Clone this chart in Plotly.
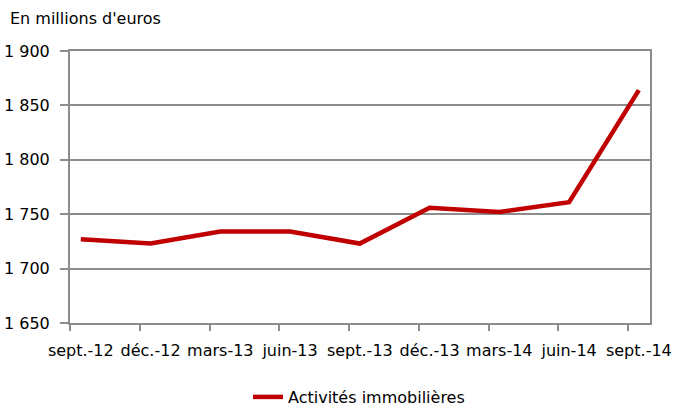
import plotly.graph_objects as go

categories = ["sept.-12", "déc.-12", "mars-13", "juin-13", "sept.-13",
              "déc.-13", "mars-14", "juin-14", "sept.-14"]
values = [1727, 1723, 1734, 1734, 1723, 1756, 1752, 1761, 1864]
y_ticks = [1650, 1700, 1750, 1800, 1850, 1900]
y_tick_labels = ["1 650", "1 700", "1 750", "1 800", "1 850", "1 900"]
series_name = "Activités immobilières"

offset = 0.155
xpos = [i + offset for i in range(len(categories))]

FONT = "DejaVu Sans"
FS = 16
GRID = "#8c8c8c"

fig = go.Figure()
fig.add_trace(go.Scatter(
    x=xpos, y=values, mode="lines", name=series_name,
    line=dict(color="#C00000", width=4.5),
))

fig.update_layout(
    width=675, height=406,
    margin=dict(l=70, r=25, t=51, b=83, autoexpand=False),
    paper_bgcolor="white", plot_bgcolor="white",
    font=dict(family=FONT, size=FS, color="#000000"),
    showlegend=True,
    legend=dict(orientation="h", xref="paper", yref="paper",
                x=(248 - 70) / 580, xanchor="left", y=-(397 - 323) / 272, yanchor="middle",
                font=dict(family=FONT, size=FS, color="#000000"),
                bgcolor="rgba(0,0,0,0)"),
    annotations=[dict(text="En millions d'euros", xref="paper", yref="paper",
                      x=-62 / 580, y=1 + 33 / 272, xanchor="left", yanchor="middle",
                      showarrow=False, font=dict(family=FONT, size=FS, color="#000000"))],
)

fig.update_xaxes(
    range=[0, 8.315], automargin=False,
    tickmode="array", tickvals=xpos, ticktext=categories,
    ticks="outside", ticklen=6, tickcolor="rgba(0,0,0,0)",
    showgrid=False, zeroline=False,
    showline=True, linecolor=GRID, linewidth=2, mirror=True,
    minor=dict(tickmode="array", tickvals=list(range(len(categories))),
               ticks="outside", ticklen=6, tickcolor=GRID, tickwidth=1.5, showgrid=False),
    ticklabelstandoff=6,
    tickfont=dict(family=FONT, size=FS, color="#000000"),
)
fig.update_yaxes(
    range=[1650, 1900], automargin=False,
    tickmode="array", tickvals=y_ticks, ticktext=y_tick_labels,
    ticks="outside", ticklen=8, tickcolor=GRID, tickwidth=1.5,
    showgrid=True, gridcolor=GRID, gridwidth=1.5, zeroline=False,
    showline=True, linecolor=GRID, linewidth=2, mirror=True,
    ticklabelstandoff=7,
    tickfont=dict(family=FONT, size=FS, color="#000000"),
)

fig.write_html("out.html", config={"displayModeBar": False},
               post_script="document.body.style.margin='0';")
